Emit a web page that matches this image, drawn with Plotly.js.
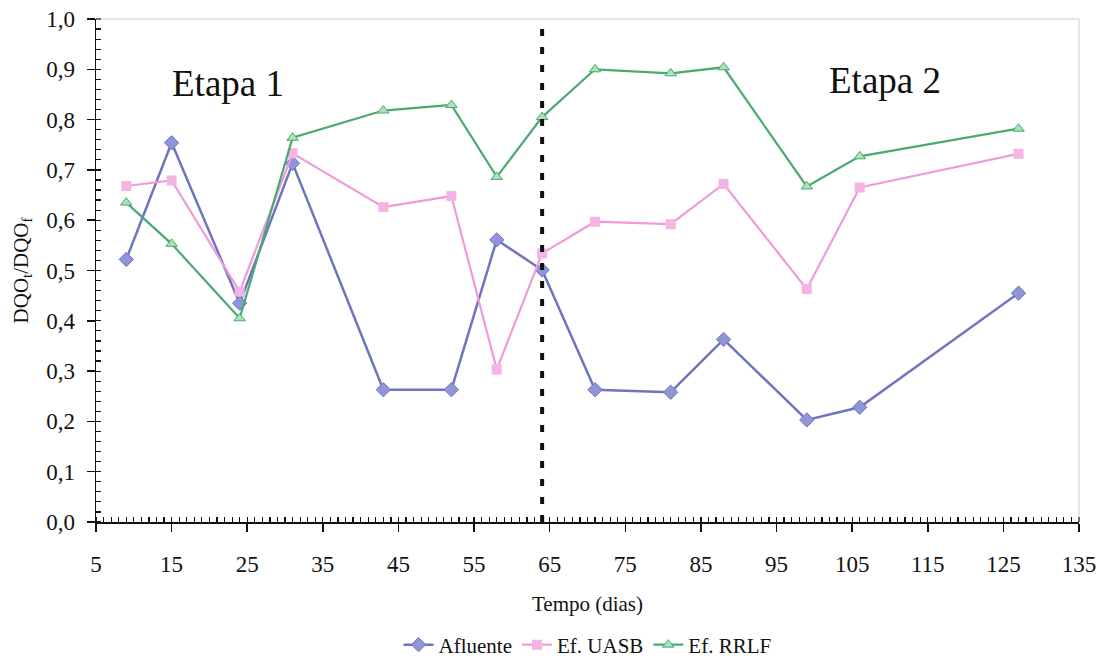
<!DOCTYPE html>
<html>
<head>
<meta charset="utf-8">
<script src="https://cdn.plot.ly/plotly-3.0.1.min.js"></script>
<style>html,body{margin:0;padding:0;background:#fff;}#chart{width:1105px;height:659px;}</style>
</head>
<body>
<div id="chart"></div>
<script>
const dias = [9, 15, 24, 31, 43, 52, 58, 64, 71, 81, 88, 99, 106, 127];
const afluente = [0.522, 0.754, 0.435, 0.713, 0.263, 0.263, 0.561, 0.501, 0.263, 0.258, 0.363, 0.203, 0.228, 0.455];
const efUASB = [0.668, 0.679, 0.458, 0.733, 0.626, 0.648, 0.303, 0.534, 0.597, 0.592, 0.672, 0.463, 0.665, 0.732];
const efRRLF = [0.635, 0.553, 0.405, 0.764, 0.818, 0.829, 0.686, 0.805, 0.900, 0.892, 0.904, 0.667, 0.727, 0.782];
const seriesNames = ["Afluente", "Ef. UASB", "Ef. RRLF"];
const etapaLabels = ["Etapa 1", "Etapa 2"];
const etapaDivision = 64;

const serif = "Liberation Serif, Times New Roman, serif";

const traces = [
  {x: dias, y: afluente, name: seriesNames[0], mode: "lines+markers",
   line: {color: "#6f74be", width: 2.5},
   marker: {symbol: "diamond", size: 11, color: "#9095d8", line: {color: "#6f74be", width: 1}}},
  {x: dias, y: efUASB, name: seriesNames[1], mode: "lines+markers",
   line: {color: "#f09ada", width: 2.2},
   marker: {symbol: "square", size: 10, color: "#f4b4e4", line: {width: 0}}},
  {x: dias, y: efRRLF, name: seriesNames[2], mode: "lines+markers",
   line: {color: "#4aaa70", width: 2.2},
   marker: {symbol: "triangle-up", size: 10, color: "#a6e3b8", line: {color: "#4aaa70", width: 1}}}
];

const layout = {
  width: 1105, height: 659,
  margin: {l: 96, r: 26, t: 19, b: 137, autoexpand: false},
  paper_bgcolor: "#fff", plot_bgcolor: "#fff",
  separators: ",.",
  font: {family: serif, color: "#111", size: 21},
  showlegend: true,
  legend: {orientation: "h", x: 0.5, xanchor: "center", y: -0.2445, yanchor: "middle",
           font: {family: serif, size: 21, color: "#111"}, itemwidth: 30, tracegroupgap: 0},
  xaxis: {
    range: [5, 135], tick0: 5, dtick: 10, tickmode: "linear",
    showgrid: false, zeroline: false,
    showline: true, linecolor: "#111", linewidth: 1.5,
    ticks: "outside", ticklen: 8, tickwidth: 1.5, tickcolor: "#111",
    minor: {ticks: "inside", dtick: 1, ticklen: 5, tickwidth: 1.2, tickcolor: "#111", showgrid: false},
    tickfont: {family: serif, size: 23, color: "#111"},
    ticklabelstandoff: 13,
    title: {text: "Tempo (dias)", font: {family: serif, size: 21, color: "#111"}, standoff: 20}
  },
  yaxis: {
    range: [0, 1], tick0: 0, dtick: 0.1, tickmode: "linear", tickformat: ".1f",
    showgrid: false, zeroline: false,
    showline: true, linecolor: "#111", linewidth: 1.5,
    ticks: "outside", ticklen: 8, tickwidth: 1.5, tickcolor: "#111",
    minor: {ticks: "inside", dtick: 0.02, ticklen: 5, tickwidth: 1.2, tickcolor: "#111", showgrid: false},
    tickfont: {family: serif, size: 23, color: "#111"},
    ticklabelstandoff: 7,
    title: {text: "DQO<sub>t</sub>/DQO<sub>f</sub>", font: {family: serif, size: 21, color: "#111"}, standoff: 12}
  },
  shapes: [
    {type: "line", xref: "x", yref: "paper", x0: etapaDivision, x1: etapaDivision, y0: 0, y1: 1,
     line: {color: "#111", width: 4, dash: "7px,11px"}},
    {type: "line", xref: "paper", yref: "paper", x0: 0, x1: 1, y0: 1, y1: 1,
     line: {color: "#cccccc", width: 1}},
    {type: "line", xref: "paper", yref: "paper", x0: 1, x1: 1, y0: 0, y1: 1,
     line: {color: "#cccccc", width: 1}}
  ],
  annotations: [
    {x: 22.5, y: 0.871, xref: "x", yref: "y", text: etapaLabels[0], showarrow: false,
     font: {family: serif, size: 37, color: "#111"}},
    {x: 109.4, y: 0.877, xref: "x", yref: "y", text: etapaLabels[1], showarrow: false,
     font: {family: serif, size: 37, color: "#111"}}
  ]
};

Plotly.newPlot("chart", traces, layout, {displayModeBar: false, staticPlot: true});
</script>
</body>
</html>
